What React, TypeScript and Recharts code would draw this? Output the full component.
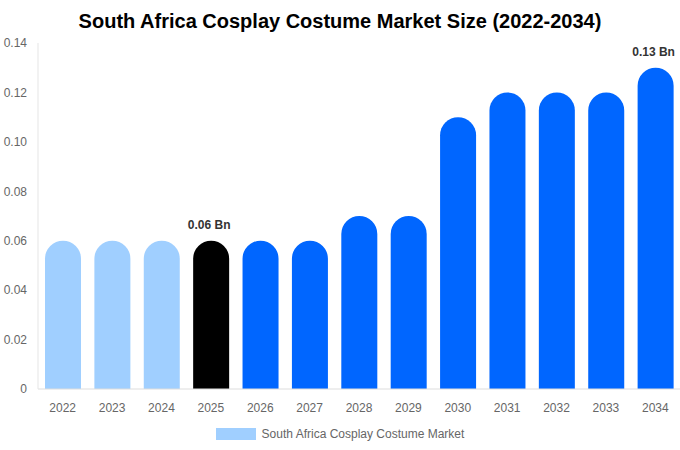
import React from 'react';
import { BarChart, Bar, XAxis, YAxis, Cell, LabelList, Legend } from 'recharts';

const years = ['2022', '2023', '2024', '2025', '2026', '2027', '2028', '2029', '2030', '2031', '2032', '2033', '2034'];
const marketSize = [0.06, 0.06, 0.06, 0.06, 0.06, 0.06, 0.07, 0.07, 0.11, 0.12, 0.12, 0.12, 0.13];
const yTicks = [0, 0.02, 0.04, 0.06, 0.08, 0.1, 0.12, 0.14];
const labelledYears = ['2025', '2034'];

const seriesName = 'South Africa Cosplay Costume Market';
const HISTORY = '#a0cfff';
const CURRENT = '#000000';
const FORECAST = '#0066ff';

const data = years.map((year, i) => ({ year, value: marketSize[i] }));

const barColor = (year: string) => {
  const y = Number(year);
  if (y < 2025) return HISTORY;
  if (y === 2025) return CURRENT;
  return FORECAST;
};

const formatTick = (v: number) => (v === 0 ? '0' : v.toFixed(2));

const ValueLabel = (props: any) => {
  const { x, y, width, value, index } = props;
  if (!labelledYears.includes(years[index])) return null;
  return (
    <text x={x + width / 2 - 2} y={y - 12} textAnchor="middle" fontSize={12} fontWeight="bold" fill="#333"
      fontFamily="'Liberation Sans', Arial, sans-serif">
      {`${value.toFixed(2)} Bn`}
    </text>
  );
};

const LegendContent = () => (
  <div style={{ display: 'flex', justifyContent: 'center', alignItems: 'center', height: 20 }}>
    <span style={{ display: 'inline-block', width: 40, height: 12, background: HISTORY, marginRight: 6 }} />
    <span style={{ fontSize: 12, color: '#666' }}>{seriesName}</span>
  </div>
);

export default function App() {
  return (
    <div style={{ position: 'absolute', left: 0, top: 0, width: 680, height: 450, background: '#fff',
      fontFamily: "'Liberation Sans', Arial, sans-serif" }}>
      <div style={{ position: 'absolute', top: 8, left: 0, width: 680, textAlign: 'center', fontSize: 20,
        fontWeight: 'bold', color: '#000', lineHeight: '26px' }}>
        South Africa Cosplay Costume Market Size (2022-2034)
      </div>
      <BarChart width={680} height={450} data={data} margin={{ top: 43, right: 0, left: 0, bottom: 6 }}>
        <XAxis dataKey="year" height={35} tickLine={false} tickMargin={8} stroke="#ddd"
          tick={{ fill: '#666', fontSize: 12 }} />
        <YAxis width={38} domain={[0, 0.14]} ticks={yTicks} tickLine={false} tickMargin={5} stroke="#e5e5e5"
          tick={{ fill: '#666', fontSize: 12 }} tickFormatter={formatTick} interval={0} />
        <Legend verticalAlign="bottom" content={<LegendContent />} />
        <Bar dataKey="value" name={seriesName} barSize={36} radius={[18, 18, 0, 0]} isAnimationActive={false}>
          {data.map((d) => (
            <Cell key={d.year} fill={barColor(d.year)} />
          ))}
          <LabelList dataKey="value" content={<ValueLabel />} />
        </Bar>
      </BarChart>
    </div>
  );
}
